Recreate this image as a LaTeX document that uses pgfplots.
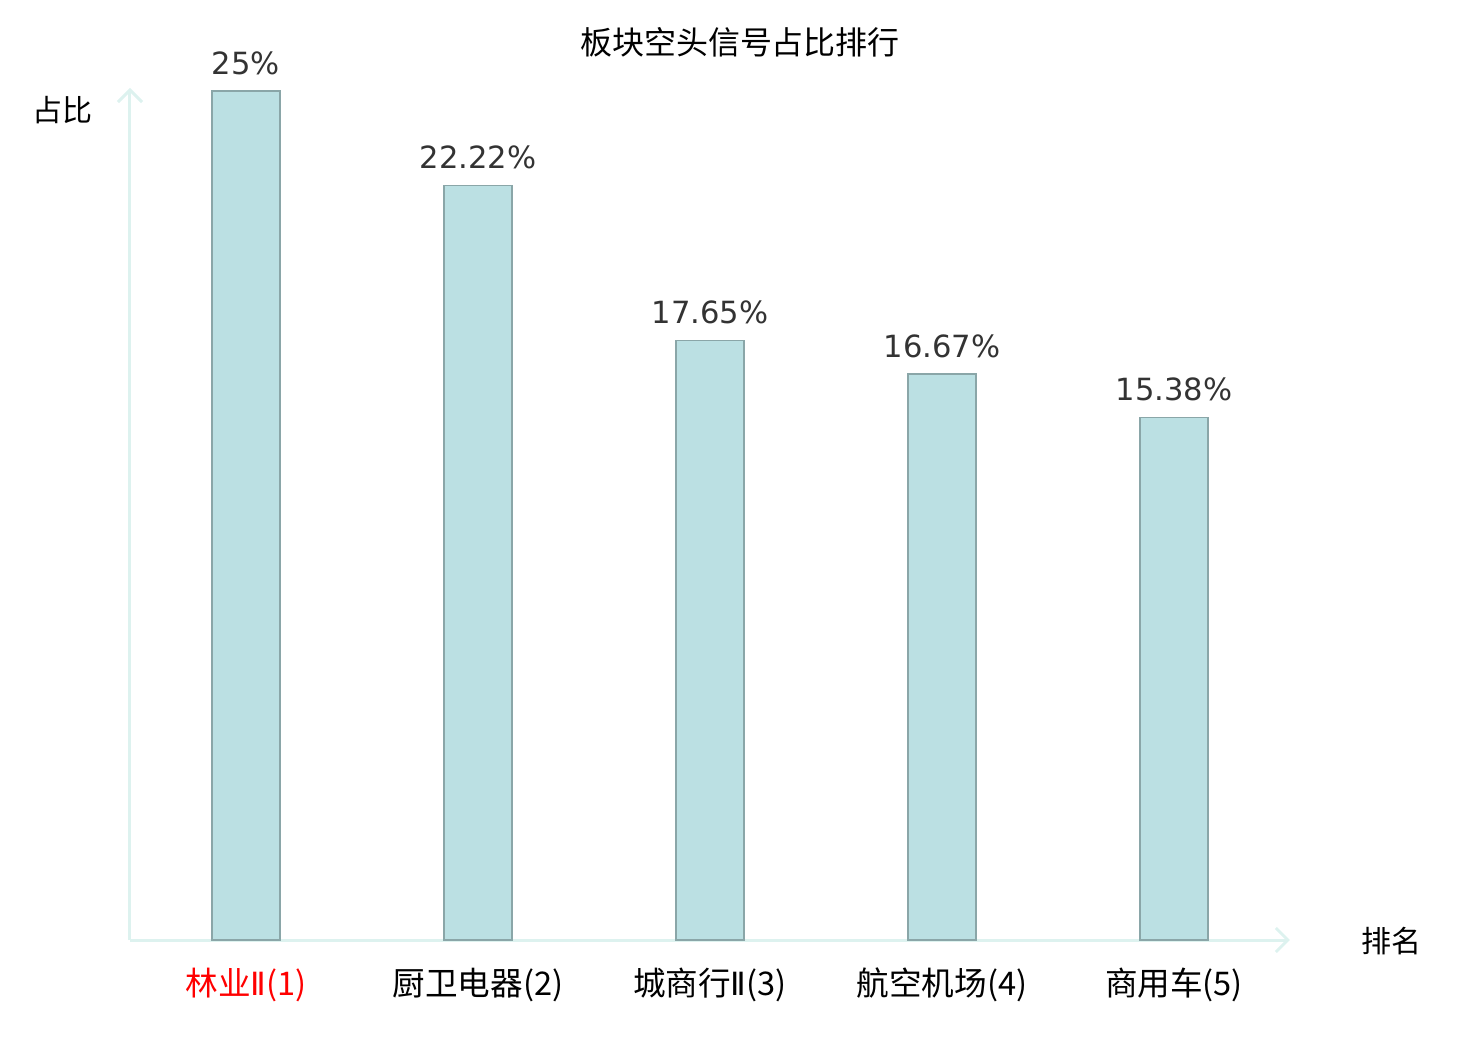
\documentclass[border=0pt]{standalone}
\usepackage{pgfplots}
\pgfplotsset{compat=1.18}
\usetikzlibrary{arrows.meta}
\usepackage{fontspec}
\setmainfont{DejaVu Sans}
\newfontfamily\cjk{Noto Sans CJK SC}
\newfontfamily\dv{DejaVu Sans}
\definecolor{barfill}{HTML}{BBE0E3}
\definecolor{baredge}{HTML}{8AA6A8}
\definecolor{axcol}{HTML}{DDF2EF}
\definecolor{valcol}{HTML}{333333}
\begin{document}
\begin{tikzpicture}
\begin{axis}[
  at={(0,0)}, anchor=south west,
  scale only axis,
  width=580pt, height=426pt,
  xmin=-0.5, xmax=4.5,
  ymin=0, ymax=25.09,
  axis lines=left,
  axis line style={draw=axcol, line width=1.5pt, -{Straight Barb[length=6pt,width=12pt]}},
  xtick=data,
  xticklabels={{\color{red}林业{\dv\fontsize{16pt}{18pt}\selectfont Ⅱ}(1)},厨卫电器(2),城商行{\dv\fontsize{16pt}{18pt}\selectfont Ⅱ}(3),航空机场(4),商用车(5)},
  ytick=\empty,
  major tick length=0pt,
  x tick label style={font=\cjk\fontsize{16.3pt}{19pt}\selectfont, yshift=-10.5pt},
  ybar, bar width=34pt,
  /pgf/number format/assume math mode=true,
  nodes near coords={\pgfmathprintnumber[fixed,precision=2]{\pgfplotspointmeta}\%},
  every node near coord/.append style={font=\dv\fontsize{15.3pt}{18pt}\selectfont, text=valcol, yshift=4.5pt},
  clip=false,
]
\addplot[fill=barfill, draw=baredge, line width=0.75pt] coordinates {(0,25) (1,22.22) (2,17.65) (3,16.67) (4,15.38)};
\end{axis}
\node[font=\cjk\fontsize{16pt}{19pt}\selectfont] at (305pt,449pt) {板块空头信号占比排行};
\node[font=\cjk\fontsize{15pt}{18pt}\selectfont] at (-33.5pt,415pt) {占比};
\node[font=\cjk\fontsize{15pt}{18pt}\selectfont] at (630.5pt,-0.5pt) {排名};
\useasboundingbox (-65pt,-50pt) rectangle (675pt,470pt);
\end{tikzpicture}
\end{document}
